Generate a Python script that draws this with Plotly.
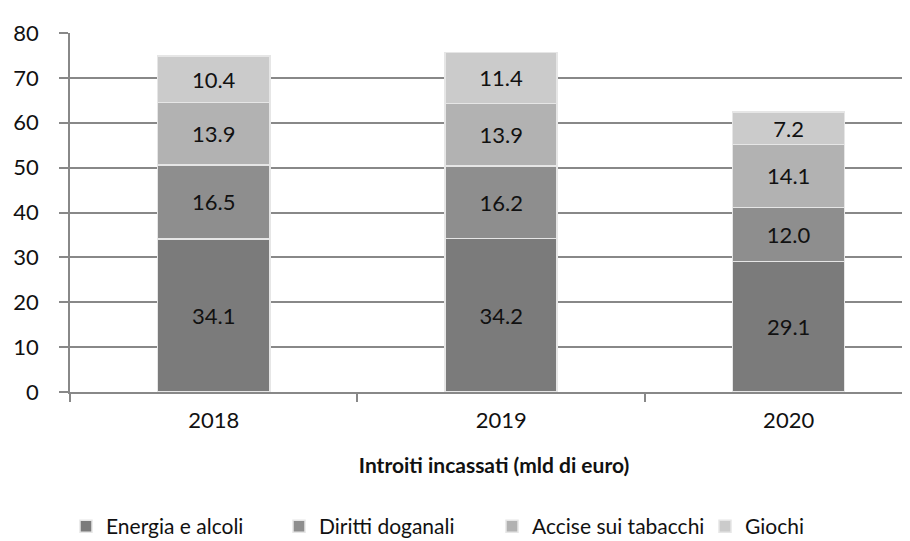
import plotly.graph_objects as go

years = ['2018', '2019', '2020']
energia = [34.1, 34.2, 29.1]
diritti = [16.5, 16.2, 12.0]
accise = [13.9, 13.9, 14.1]
giochi = [10.4, 11.4, 7.2]

series = [
    ('Energia e alcoli', energia, '#7b7b7b'),
    ('Diritti doganali', diritti, '#8e8e8e'),
    ('Accise sui tabacchi', accise, '#b2b2b2'),
    ('Giochi', giochi, '#cbcbcb'),
]

font = 'Lato, "Open Sans", sans-serif'

fig = go.Figure()
for name, vals, col in series:
    fig.add_trace(go.Bar(
        x=years, y=vals, name=name, width=0.39,
        marker=dict(color=col, line=dict(color='#e6e6e6', width=1.5)),
        text=['%.1f' % v for v in vals], textposition='inside',
        insidetextanchor='middle',
        textfont=dict(family=font, size=22, color='#111111'),
    ))

fig.update_layout(
    barmode='stack', width=910, height=541,
    margin=dict(l=62, r=0, t=25, b=157),
    plot_bgcolor='white', paper_bgcolor='white',
    font=dict(family=font, size=22, color='#111111'),
    uniformtext=dict(mode='show', minsize=22),
    legend=dict(orientation='h', x=0.0, xanchor='left', y=-0.375, yanchor='middle',
                font=dict(size=21), itemwidth=30, entrywidth=168,
                traceorder='normal'),
    xaxis=dict(
        range=[-0.5, 2.45], showline=True, linecolor='#888888', linewidth=1.5,
        ticks='outside', tickson='boundaries', ticklen=8, tickcolor='#888888',
        tickwidth=1.5, ticklabelstandoff=8,
        title=dict(text='<b>Introiti incassati (mld di euro)</b>', standoff=26,
                   font=dict(size=21)),
    ),
    yaxis=dict(
        range=[0, 80], dtick=10, showgrid=True, gridcolor='#888888', gridwidth=1.5,
        showline=True, linecolor='#888888', linewidth=1.5,
        ticks='outside', ticklen=9, tickcolor='#888888', tickwidth=1.5,
        ticklabelstandoff=16, zeroline=False,
    ),
)

fig.write_html('out.html')
